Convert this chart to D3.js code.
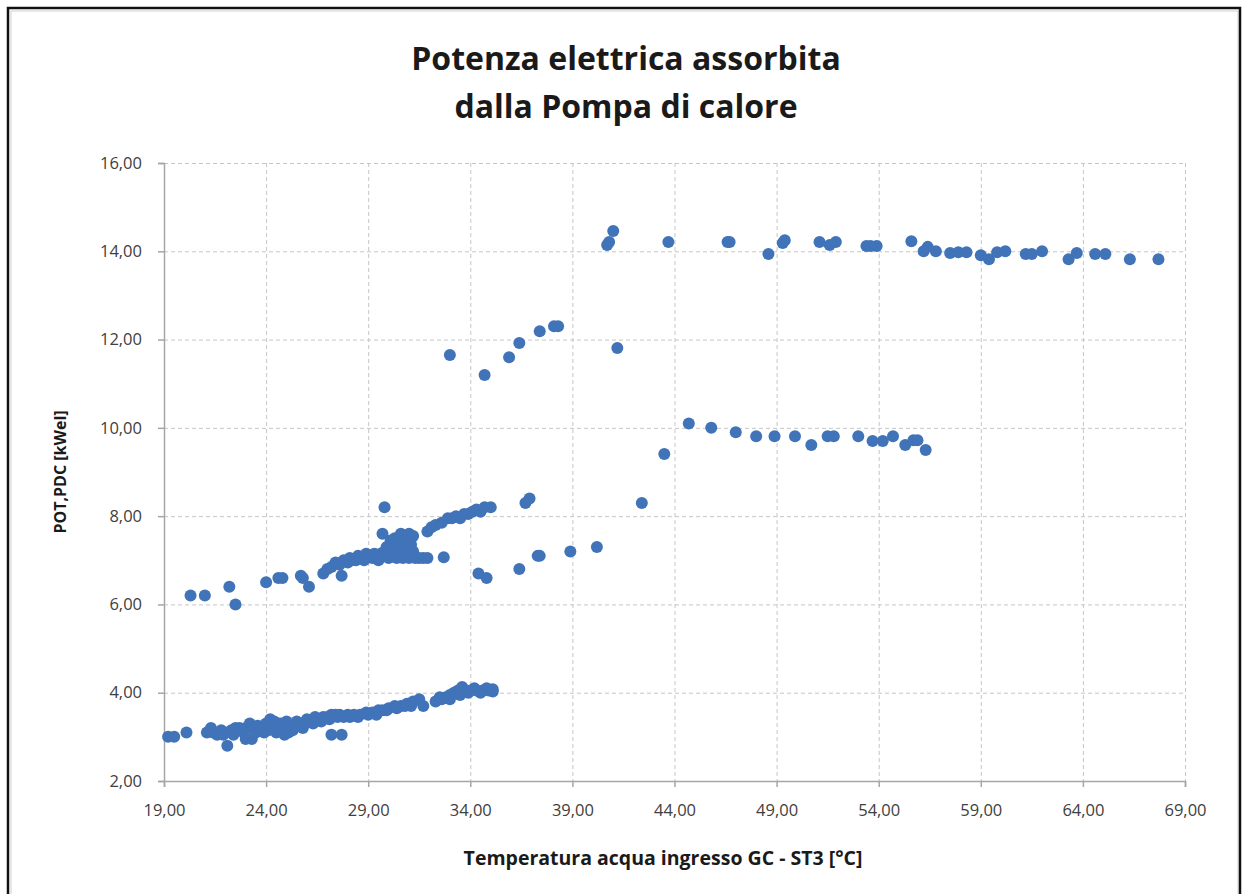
<!DOCTYPE html>
<html>
<head>
<meta charset="utf-8">
<script src="https://cdn.jsdelivr.net/npm/d3@7"></script>
<style>
    body { margin: 0; background: #fff; }
    #chart-area { width: 1245px; height: 894px; }
    .grid line { stroke: #c6c6c6; stroke-width: 1; stroke-dasharray: 4,3; }
    .axis text { font-family: "Open Sans", sans-serif; font-size: 16.5px; fill: #404040; }
    .axis-title { font-family: "Open Sans", sans-serif; font-weight: 700; fill: #1a1a1a; }
</style>
</head>
<body>
<div id="chart-area"></div>
<script>
// Temperatura acqua ingresso GC - ST3 [°C] vs POT,PDC [kWel]
const lowBand = [
    [19.2, 3.0], [19.5, 3.0], [20.1, 3.1],
    [21.1, 3.1], [21.3, 3.2], [21.4, 3.1], [21.6, 3.05], [21.8, 3.15], [21.9, 3.05], [22.0, 3.1],
    [22.1, 2.8], [22.3, 3.15], [22.4, 3.05], [22.5, 3.2], [22.7, 3.2], [22.9, 3.1], [23.0, 2.95],
    [23.0, 3.2], [23.2, 3.3], [23.3, 2.95], [23.3, 3.2], [23.5, 3.1], [23.6, 3.25], [23.8, 3.2],
    [23.9, 3.1], [24.0, 3.3], [24.1, 3.15], [24.2, 3.4], [24.3, 3.25], [24.4, 3.35], [24.5, 3.1],
    [24.6, 3.2], [24.7, 3.3], [24.8, 3.2], [24.9, 3.05], [25.0, 3.35], [25.1, 3.1], [25.2, 3.25],
    [25.3, 3.15], [25.4, 3.25], [25.5, 3.35], [25.7, 3.3], [25.8, 3.2], [25.9, 3.3], [26.0, 3.4],
    [26.2, 3.35], [26.3, 3.3], [26.4, 3.45], [26.6, 3.4], [26.7, 3.35], [26.8, 3.45], [27.0, 3.45],
    [27.1, 3.4], [27.2, 3.5], [27.4, 3.5], [27.5, 3.45], [27.2, 3.05], [27.7, 3.05], [27.6, 3.5],
    [27.8, 3.45], [28.0, 3.5], [28.1, 3.45], [28.3, 3.5], [28.5, 3.45], [28.6, 3.5], [28.9, 3.55],
    [29.0, 3.5], [29.2, 3.55], [29.4, 3.5], [29.5, 3.6], [29.7, 3.6], [29.9, 3.6], [30.0, 3.65],
    [30.3, 3.7], [30.4, 3.65], [30.6, 3.7], [30.8, 3.7], [30.9, 3.75], [31.1, 3.7], [31.2, 3.8],
    [31.5, 3.85], [31.7, 3.7], [32.3, 3.8], [32.5, 3.9], [32.6, 3.85], [32.8, 3.9], [33.0, 3.95],
    [33.0, 3.85], [33.2, 4.0], [33.4, 4.05], [33.5, 3.95], [33.6, 4.13], [33.8, 4.05], [33.9, 4.0],
    [34.0, 4.05], [34.2, 4.1], [34.3, 4.05], [34.5, 4.0], [34.6, 4.05], [34.8, 4.1], [34.9, 4.05],
    [35.1, 4.03], [35.1, 4.08]
];

const midBand = [
    [20.3, 6.2], [21.0, 6.2], [22.2, 6.4], [22.5, 6.0], [24.0, 6.5], [24.6, 6.6], [24.8, 6.6],
    [25.7, 6.65], [25.8, 6.6], [26.1, 6.4], [26.8, 6.7], [27.0, 6.8], [27.2, 6.85], [27.4, 6.95],
    [27.6, 6.9], [27.7, 6.65], [27.8, 7.0], [28.0, 6.95], [28.1, 7.05], [28.2, 7.0], [28.4, 7.0],
    [28.5, 7.1], [28.6, 7.05], [28.8, 7.0], [28.9, 7.15], [29.0, 7.1], [29.2, 7.05], [29.3, 7.15],
    [29.4, 7.1], [29.5, 7.0], [29.6, 7.15], [29.7, 7.6], [29.8, 8.2], [29.8, 7.2], [29.9, 7.3],
    [30.0, 7.05], [30.0, 7.25], [30.1, 7.45], [30.2, 7.1], [30.2, 7.35], [30.3, 7.5], [30.4, 7.2],
    [30.4, 7.05], [30.5, 7.45], [30.5, 7.15], [30.6, 7.3], [30.6, 7.6], [30.7, 7.05], [30.7, 7.4],
    [30.8, 7.5], [30.8, 7.2], [30.9, 7.4], [30.9, 7.55], [31.0, 7.6], [31.0, 7.05], [31.1, 7.35],
    [31.1, 7.5], [31.2, 7.55], [31.2, 7.2], [31.3, 7.05], [31.5, 7.05], [31.7, 7.05], [31.9, 7.05],
    [31.9, 7.65], [32.1, 7.75], [32.3, 7.8], [32.6, 7.85], [32.7, 7.07], [32.9, 7.95], [33.1, 7.95],
    [33.3, 8.0], [33.5, 7.95], [33.7, 8.05], [33.9, 8.05], [34.1, 8.1], [34.3, 8.15], [34.5, 8.1],
    [34.7, 8.2], [35.0, 8.2], [34.4, 6.7], [34.8, 6.6], [36.4, 6.8], [36.7, 8.3], [36.9, 8.4],
    [37.3, 7.1], [37.4, 7.1], [38.9, 7.2], [40.2, 7.3], [42.4, 8.3]
];

const upperBand = [
    [33.0, 11.65], [34.7, 11.2], [35.9, 11.6], [36.4, 11.92], [37.4, 12.19], [38.1, 12.3],
    [38.3, 12.3], [41.2, 11.81]
];

const band10 = [
    [43.5, 9.41], [44.7, 10.1], [45.8, 10.0], [47.0, 9.9], [48.0, 9.81], [48.9, 9.81], [49.9, 9.81],
    [50.7, 9.61], [51.5, 9.81], [51.8, 9.81], [53.0, 9.81], [53.7, 9.7], [54.2, 9.7], [54.7, 9.81],
    [55.3, 9.61], [55.7, 9.72], [55.9, 9.72], [56.3, 9.5]
];

const band14 = [
    [40.7, 14.14], [40.8, 14.21], [41.0, 14.46], [43.7, 14.21], [46.6, 14.21], [46.7, 14.21],
    [48.6, 13.94], [49.3, 14.19], [49.4, 14.25], [51.1, 14.21], [51.6, 14.14], [51.9, 14.21],
    [53.4, 14.12], [53.6, 14.12], [53.9, 14.12], [55.6, 14.23], [56.2, 14.0], [56.4, 14.1],
    [56.8, 14.0], [57.5, 13.96], [57.9, 13.98], [58.3, 13.98], [59.0, 13.91], [59.4, 13.82],
    [59.8, 13.98], [60.2, 14.0], [61.2, 13.94], [61.5, 13.94], [62.0, 14.0], [63.3, 13.82],
    [63.7, 13.96], [64.6, 13.94], [65.1, 13.94], [66.3, 13.82], [67.7, 13.82]
];

const xTicks = [19, 24, 29, 34, 39, 44, 49, 54, 59, 64, 69];
const yTicks = [2, 4, 6, 8, 10, 12, 14, 16];

const titleLines = ["Potenza elettrica assorbita", "dalla Pompa di calore"];
const xTitle = "Temperatura acqua ingresso GC - ST3 [°C]";
const yTitle = "POT,PDC [kWel]";


class scatterChart {

    constructor(parentElement, data) {
        this.parentElement = parentElement;
        this.data = data;
        this.initVis();
    }

    initVis() {
        let vis = this;

        vis.margin = { top: 163, right: 60, bottom: 113, left: 164 };
        vis.totalWidth = 1245;
        vis.totalHeight = 894;
        vis.width = vis.totalWidth - vis.margin.left - vis.margin.right;
        vis.height = vis.totalHeight - vis.margin.top - vis.margin.bottom;

        vis.root = d3.select("#" + vis.parentElement)
            .append("svg")
            .attr("width", vis.totalWidth)
            .attr("height", vis.totalHeight);

        // outer frame
        vis.root.append("rect")
            .attr("x", 11).attr("y", 11)
            .attr("width", 1227).attr("height", 900)
            .attr("fill", "none")
            .attr("stroke", "#d0d0d0")
            .attr("stroke-width", 1);
        vis.root.append("rect")
            .attr("x", 8).attr("y", 8)
            .attr("width", 1232).attr("height", 910)
            .attr("fill", "none")
            .attr("stroke", "#111")
            .attr("stroke-width", 2.5);

        vis.svg = vis.root.append("g")
            .attr("transform", `translate(${vis.margin.left},${vis.margin.top})`);

        vis.x = d3.scaleLinear().domain([19, 69]).range([0, vis.width]);
        vis.y = d3.scaleLinear().domain([2, 16]).range([vis.height, 0]);

        let fmt = d3.formatLocale({ decimal: ",", thousands: ".", grouping: [3], currency: ["", "€"] }).format(".2f");

        // gridlines
        vis.svg.append("g")
            .attr("class", "grid")
            .call(d3.axisLeft(vis.y).tickValues(yTicks.slice(1)).tickSize(-vis.width).tickFormat(""))
            .call(g => g.select(".domain").remove());

        vis.svg.append("g")
            .attr("class", "grid")
            .call(d3.axisBottom(vis.x).tickValues(xTicks.slice(1)).tickSize(vis.height).tickFormat(""))
            .call(g => g.select(".domain").remove());

        // axes
        vis.xAxis = d3.axisBottom(vis.x).tickValues(xTicks).tickSize(6).tickPadding(17).tickFormat(fmt);
        vis.yAxis = d3.axisLeft(vis.y).tickValues(yTicks).tickSize(6).tickPadding(16).tickFormat(fmt);

        vis.svg.append("g")
            .attr("class", "x-axis axis")
            .attr("transform", "translate(0," + vis.height + ")")
            .call(vis.xAxis)
            .call(g => g.selectAll("line, .domain").attr("stroke", "#a6a6a6").attr("stroke-width", 1.5));

        vis.svg.append("g")
            .attr("class", "y-axis axis")
            .call(vis.yAxis)
            .call(g => g.selectAll("line, .domain").attr("stroke", "#a6a6a6").attr("stroke-width", 1.5));

        // points
        vis.svg.append("g")
            .selectAll("circle")
            .data(vis.data)
            .join("circle")
            .attr("cx", d => vis.x(d[0]))
            .attr("cy", d => vis.y(d[1]))
            .attr("r", 6)
            .attr("fill", "#4173b9");

        // titles
        vis.root.append("text")
            .attr("class", "axis-title")
            .attr("text-anchor", "middle")
            .attr("font-size", 32)
            .selectAll("tspan")
            .data(titleLines)
            .join("tspan")
            .attr("x", 626)
            .attr("y", (d, i) => 70 + i * 48)
            .text(d => d);

        vis.root.append("text")
            .attr("class", "axis-title")
            .attr("text-anchor", "middle")
            .attr("font-size", 19.5)
            .attr("x", 663)
            .attr("y", 865)
            .text(xTitle);

        vis.root.append("text")
            .attr("class", "axis-title")
            .attr("text-anchor", "middle")
            .attr("font-size", 16)
            .attr("transform", `translate(66,${vis.margin.top + vis.height / 2}) rotate(-90)`)
            .text(yTitle);
    }
}

let chart = new scatterChart("chart-area",
    [].concat(lowBand, midBand, upperBand, band10, band14));
</script>
</body>
</html>
